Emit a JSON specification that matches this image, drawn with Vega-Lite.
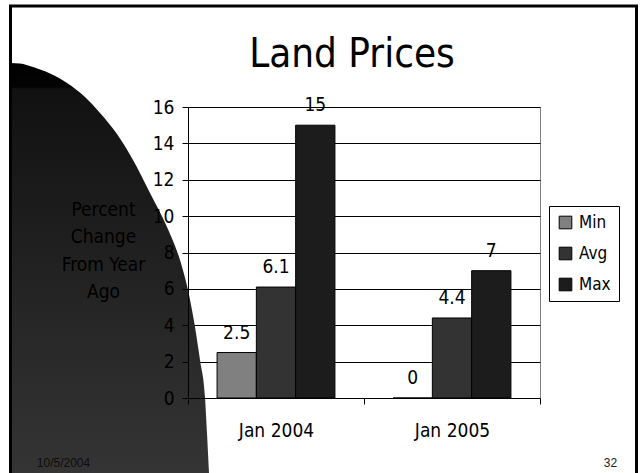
{
  "$schema": "https://vega.github.io/schema/vega-lite/v6.json",
  "width": 352,
  "height": 291,
  "autosize": {"type": "none"},
  "padding": {"left": 188, "top": 107, "right": 100, "bottom": 75},
  "background": "white",
  "title": {
    "text": "Land Prices",
    "font": "Liberation Sans Narrow, DejaVu Sans Condensed, sans-serif",
    "fontSize": 40,
    "fontWeight": "normal",
    "color": "#000000",
    "anchor": "middle",
    "frame": "group",
    "baseline": "alphabetic",
    "dx": -12,
    "offset": -102
  },
  "config": {
    "font": "Liberation Sans Narrow, DejaVu Sans Condensed, sans-serif",
    "view": {"stroke": "#808080", "strokeWidth": 1}
  },
  "datasets": {
    "prices": [
      {"period": "Jan 2004", "series": "Min", "value": 2.5},
      {"period": "Jan 2004", "series": "Avg", "value": 6.1},
      {"period": "Jan 2004", "series": "Max", "value": 15},
      {"period": "Jan 2005", "series": "Min", "value": 0},
      {"period": "Jan 2005", "series": "Avg", "value": 4.4},
      {"period": "Jan 2005", "series": "Max", "value": 7}
    ],
    "shape": [
      {"sx": 10, "sy": 63},
      {"sx": 20, "sy": 63.5},
      {"sx": 33, "sy": 67},
      {"sx": 50, "sy": 73.5},
      {"sx": 67, "sy": 83},
      {"sx": 85, "sy": 97},
      {"sx": 100, "sy": 113},
      {"sx": 117, "sy": 134},
      {"sx": 133, "sy": 160},
      {"sx": 150, "sy": 193},
      {"sx": 167, "sy": 227},
      {"sx": 180, "sy": 260},
      {"sx": 188, "sy": 290},
      {"sx": 195, "sy": 327},
      {"sx": 200, "sy": 360},
      {"sx": 205, "sy": 397},
      {"sx": 207, "sy": 433},
      {"sx": 209, "sy": 473}
    ]
  },
  "layer": [
    {
      "data": {"name": "shape"},
      "mark": {
        "type": "area",
        "orient": "vertical",
        "interpolate": "monotone",
        "color": {
          "gradient": "linear",
          "x1": 0, "y1": 0, "x2": 0, "y2": 1,
          "stops": [
            {"offset": 0, "color": "#000000"},
            {"offset": 0.058, "color": "#030303"},
            {"offset": 0.062, "color": "#111111"},
            {"offset": 1, "color": "#353535"}
          ]
        }
      },
      "encoding": {
        "x": {
          "field": "sx", "type": "quantitative",
          "scale": {"domain": [188, 540], "nice": false, "zero": false},
          "axis": {
            "orient": "bottom", "domain": false, "ticks": false, "labels": false, "grid": false,
            "title": "10/5/2004", "titleX": -125, "titleY": 68, "titleAlign": "center",
            "titleBaseline": "alphabetic", "titleFont": "Liberation Sans, Arial, sans-serif",
            "titleFontSize": 12, "titleFontWeight": "normal", "titleColor": "#0d0d0d", "zindex": 2
          }
        },
        "y": {
          "field": "sy", "type": "quantitative",
          "scale": {"domain": [107, 398], "reverse": true, "nice": false, "zero": false},
          "axis": {
            "orient": "right", "domain": false, "ticks": false, "labels": false, "grid": false,
            "title": "32", "titleAngle": 0, "titleX": 70, "titleY": 359, "titleAlign": "center",
            "titleBaseline": "alphabetic", "titleFont": "Liberation Sans, Arial, sans-serif",
            "titleFontSize": 12, "titleFontWeight": "normal", "titleColor": "#1a1a1a", "zindex": 2
          }
        },
        "y2": {"datum": 480}
      }
    },
    {
      "data": {"values": [{}]},
      "mark": {"type": "rect", "filled": false, "stroke": "#000000", "strokeWidth": 3},
      "encoding": {
        "x": {"datum": 10.5, "type": "quantitative", "scale": {"domain": [188, 540], "nice": false, "zero": false}, "axis": null},
        "x2": {"datum": 636.5},
        "y": {"datum": 6, "type": "quantitative", "scale": {"domain": [107, 398], "reverse": true, "nice": false, "zero": false}, "axis": null},
        "y2": {"datum": 490}
      }
    },
    {
      "data": {"name": "prices"},
      "mark": {"type": "bar", "stroke": "#000000", "strokeWidth": 1},
      "encoding": {
        "x": {
          "field": "period", "type": "nominal",
          "scale": {"paddingInner": 0, "paddingOuter": 0},
          "axis": {
            "orient": "bottom", "title": null, "labelAngle": 0, "tickBand": "extent",
            "tickSize": 6, "tickColor": "#000000", "domainColor": "#000000",
            "labelFontSize": 19, "labelColor": "#000000", "labelPadding": 17,
            "grid": false, "zindex": 1
          }
        },
        "xOffset": {
          "field": "series", "type": "nominal", "sort": ["Min", "Avg", "Max"],
          "scale": {"paddingInner": 0, "paddingOuter": 0.74}
        },
        "y": {
          "field": "value", "type": "quantitative",
          "scale": {"domain": [0, 16], "nice": false},
          "axis": {
            "orient": "left", "grid": true, "gridColor": "#000000", "gridOpacity": 1,
            "labels": false, "ticks": false, "domain": false, "title": null,
            "values": [0, 2, 4, 6, 8, 10, 12, 14, 16], "zindex": 0
          }
        },
        "color": {
          "field": "series", "type": "nominal",
          "scale": {"domain": ["Min", "Avg", "Max"], "range": ["#808080", "#333333", "#1c1c1c"]},
          "legend": {
            "title": null, "orient": "none", "legendX": 361, "legendY": 99,
            "strokeColor": "#000000", "fillColor": "#ffffff", "padding": 8,
            "symbolType": "square", "symbolSize": 160, "symbolStrokeColor": "#000000",
            "symbolStrokeWidth": 1, "labelFontSize": 17,
            "labelFont": "Liberation Sans Narrow, DejaVu Sans Condensed, sans-serif",
            "labelColor": "#000000", "rowPadding": 13, "labelOffset": 5
          }
        }
      }
    },
    {
      "data": {"name": "prices"},
      "mark": {"type": "text", "baseline": "alphabetic", "dy": -14, "fontSize": 19, "color": "#000000"},
      "encoding": {
        "x": {"field": "period", "type": "nominal", "scale": {"paddingInner": 0, "paddingOuter": 0}, "axis": null},
        "xOffset": {
          "field": "series", "type": "nominal", "sort": ["Min", "Avg", "Max"],
          "scale": {"paddingInner": 0, "paddingOuter": 0.74}
        },
        "y": {
          "field": "value", "type": "quantitative",
          "scale": {"domain": [0, 16], "nice": false},
          "axis": {
            "orient": "left", "grid": false, "values": [0, 2, 4, 6, 8, 10, 12, 14, 16],
            "labelFontSize": 19, "labelColor": "#000000", "tickColor": "#000000", "tickSize": 6,
            "domainColor": "#000000", "labelPadding": 8, "zindex": 1,
            "title": ["Percent", "Change", "From Year", "Ago"], "titleAngle": 0,
            "titleAlign": "center", "titleBaseline": "top", "titleX": -85, "titleY": 93,
            "titleFontSize": 19, "titleFontWeight": "normal", "titleColor": "#000000",
            "titleLineHeight": 27.5
          }
        },
        "text": {"field": "value", "type": "quantitative"}
      }
    }
  ],
  "resolve": {
    "scale": {"x": "independent", "y": "independent"},
    "axis": {"x": "independent", "y": "independent"}
  }
}
